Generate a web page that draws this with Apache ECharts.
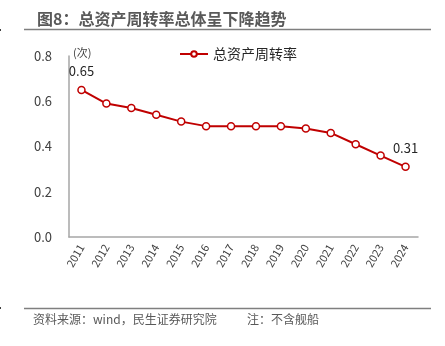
<!DOCTYPE html>
<html>
<head>
<meta charset="utf-8">
<script src="https://cdn.jsdelivr.net/npm/echarts@6/dist/echarts.min.js"></script>
<style>
html,body{margin:0;padding:0;background:#fff;}
#chart{width:445px;height:346px;}
</style>
</head>
<body>
<div id="chart"></div>
<script>
// 总资产周转率（次），2011-2024
const years = ['2011','2012','2013','2014','2015','2016','2017','2018','2019','2020','2021','2022','2023','2024'];
const turnover = [0.65, 0.59, 0.57, 0.54, 0.51, 0.49, 0.49, 0.49, 0.49, 0.48, 0.46, 0.41, 0.36, 0.31];
const yTicks = [0, 0.2, 0.4, 0.6, 0.8];
const labelledIdx = [0, turnover.length - 1];

const font = '"Noto Sans CJK SC", "Open Sans", sans-serif';
const chart = echarts.init(document.getElementById('chart'));

chart.setOption({
  animation: false,
  textStyle: { fontFamily: font },
  title: {
    text: '图8：总资产周转率总体呈下降趋势',
    left: 32, top: 6,
    textStyle: { fontSize: 16, fontWeight: 'bold', color: '#595959', fontFamily: font }
  },
  graphic: [
    { type: 'line', shape: { x1: 24, y1: 29.5, x2: 431, y2: 29.5 }, style: { stroke: '#7f7f7f', lineWidth: 1.5 } },
    { type: 'line', shape: { x1: 24, y1: 308.5, x2: 431, y2: 308.5 }, style: { stroke: '#7f7f7f', lineWidth: 1.5 } },
    { type: 'line', shape: { x1: 0.5, y1: 29, x2: 0.5, y2: 31 }, style: { stroke: '#404040', lineWidth: 1 } },
    { type: 'line', shape: { x1: 0.5, y1: 307, x2: 0.5, y2: 309 }, style: { stroke: '#404040', lineWidth: 1 } },
    { type: 'text', left: 33, top: 313, style: { text: '资料来源：wind，民生证券研究院', fontSize: 12, fill: '#595959', fontFamily: font } },
    { type: 'text', left: 247, top: 313, style: { text: '注：不含舰船', fontSize: 12, fill: '#595959', fontFamily: font } },
    { type: 'text', left: 73, top: 47, style: { text: '(次)', fontSize: 11, fill: '#404040', fontFamily: font } }
  ],
  legend: {
    data: ['总资产周转率'],
    left: 174, top: 42,
    itemWidth: 28, itemHeight: 7, itemGap: 4,
    textStyle: { fontSize: 14, color: '#262626', fontFamily: font }
  },
  grid: { left: 69, right: 27, top: 56, bottom: 109 },
  xAxis: {
    type: 'category',
    data: years,
    boundaryGap: true,
    axisLine: { lineStyle: { color: '#a6a6a6', width: 1.5 } },
    axisTick: { show: false },
    axisLabel: { rotate: 60, fontSize: 11, color: '#404040', margin: 8, interval: 0 }
  },
  yAxis: {
    type: 'value',
    min: 0, max: 0.8, interval: 0.2,
    axisLine: { show: true, lineStyle: { color: '#a6a6a6', width: 1.5 } },
    axisTick: { show: false },
    splitLine: { show: false },
    axisLabel: {
      fontSize: 13, color: '#404040', margin: 17,
      formatter: v => yTicks.includes(+v.toFixed(1)) ? v.toFixed(1) : ''
    }
  },
  series: [{
    name: '总资产周转率',
    type: 'line',
    data: turnover.map((v, i) => ({
      value: v,
      label: labelledIdx.includes(i) ? { show: true } : { show: false }
    })),
    symbol: 'circle',
    symbolSize: 7,
    lineStyle: { color: '#c00000', width: 2 },
    itemStyle: { color: '#fff', borderColor: '#c00000', borderWidth: 1.5 },
    label: {
      position: 'top', distance: 8,
      fontSize: 13, color: '#262626',
      formatter: p => p.value.toFixed(2)
    }
  }]
});
</script>
</body>
</html>
